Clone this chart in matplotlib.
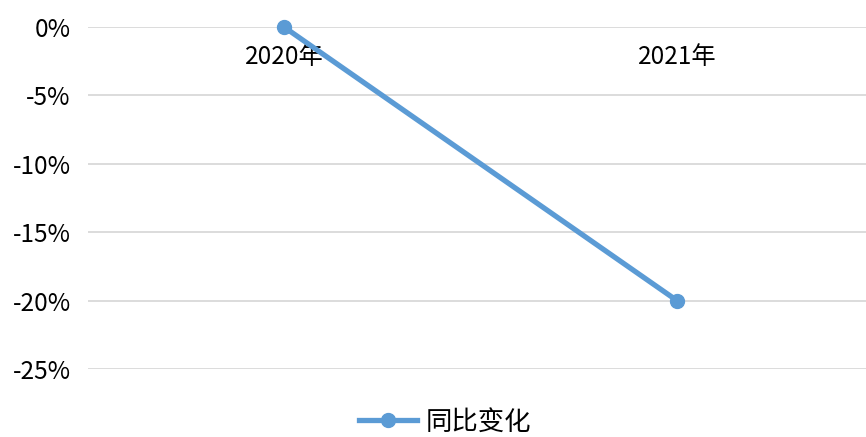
import matplotlib
matplotlib.use("Agg")
import matplotlib.pyplot as plt
from matplotlib.lines import Line2D

plt.rcParams['font.family'] = ['Noto Sans CJK SC', 'DejaVu Sans']

categories = ["2020年", "2021年"]
yoy_change = [0.0, -20.0]
y_ticks = [0, -5, -10, -15, -20, -25]
series_name = "同比变化"

W, H = 866, 437
fig = plt.figure(figsize=(W / 100, H / 100), dpi=100)
left, right = 87.5, 866
top, bottom = 27, 369
ax = fig.add_axes([left / W, 1 - bottom / H, (right - left) / W, (bottom - top) / H])

x = list(range(len(categories)))
color = "#5B9BD5"
ax.plot(x, yoy_change, color=color, lw=3.8, marker="o", ms=10, solid_capstyle="round", zorder=3, clip_on=False)

ax.set_xlim(-0.5, 1.5 - 7.5 / 393)
ax.set_ylim(-25, 0)
ax.set_yticks(y_ticks)
ax.set_yticklabels([f"{v}%" for v in y_ticks], fontsize=17.5, color="#000000")
ax.tick_params(axis="y", length=0, pad=12)
ax.set_xticks([])
for s in ax.spines.values():
    s.set_visible(False)
ax.grid(axis="y", color="#d9d9d9", lw=1.3)
ax.set_axisbelow(True)

for xi, lab in zip(x, categories):
    ax.text(xi, -2.2, lab, ha="center", va="center", fontsize=17.5, color="#000000", zorder=2)

handle = Line2D([], [], color=color, lw=3.8, marker="o", ms=10)
fig.legend([handle], [series_name], loc="center", bbox_to_anchor=(445 / W, 1 - 422 / H),
           frameon=False, fontsize=19, handlelength=2.2, handletextpad=0.35,
           borderpad=0, borderaxespad=0)

fig.savefig("out.png", dpi=100, facecolor="white")
